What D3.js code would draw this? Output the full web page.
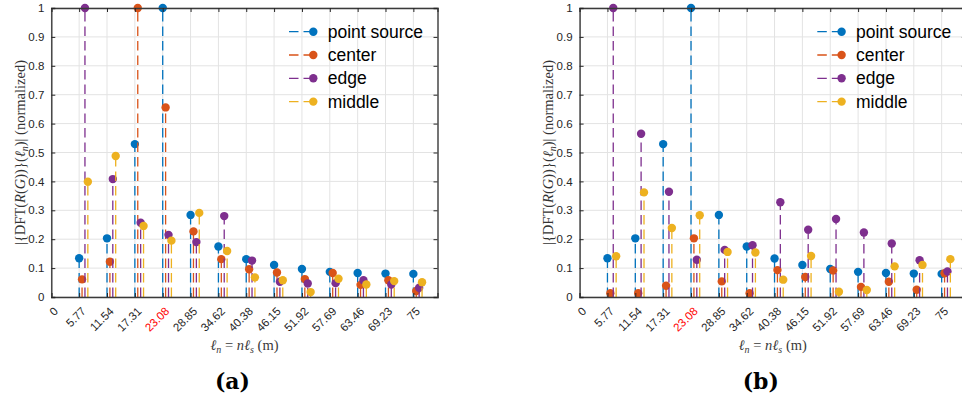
<!DOCTYPE html>
<html>
<head>
<meta charset="utf-8">
<script src="https://cdn.jsdelivr.net/npm/d3@7"></script>
<style>
  body { margin: 0; background: #fff; }
  svg { display: block; }
</style>
</head>
<body>
<svg id="fig" width="962" height="399"></svg>
<script>
// Sample lengths (m) and their tick labels
const tickLabels = ["0", "5.77", "11.54", "17.31", "23.08", "28.85", "34.62", "40.38", "46.15", "51.92", "57.69", "63.46", "69.23", "75"];
const lengths = [5.77, 11.54, 17.31, 23.08, 28.85, 34.62, 40.38, 46.15, 51.92, 57.69, 63.46, 69.23, 75];
const highlightLabel = "23.08";
const yTicks = [0, 0.1, 0.2, 0.3, 0.4, 0.5, 0.6, 0.7, 0.8, 0.9, 1];

const seriesNames = ["point source", "center", "edge", "middle"];
const seriesColors = ["#0072BD", "#D95319", "#7E2F8E", "#EDB120"];
const seriesShift = [0, 0.6, 1.2, 1.8];

// Panel (a)
const aPoint  = [0.134, 0.203, 0.529, 1.000, 0.284, 0.175, 0.131, 0.111, 0.097, 0.087, 0.083, 0.081, 0.080];
const aCenter = [0.061, 0.122, 1.000, 0.656, 0.227, 0.131, 0.096, 0.085, 0.062, 0.083, 0.042, 0.058, 0.021];
const aEdge   = [1.000, 0.408, 0.257, 0.215, 0.190, 0.280, 0.126, 0.053, 0.047, 0.048, 0.058, 0.043, 0.032];
const aMiddle = [0.399, 0.488, 0.246, 0.195, 0.291, 0.159, 0.068, 0.058, 0.017, 0.063, 0.043, 0.055, 0.051];

// Panel (b)
const bPoint  = [0.134, 0.203, 0.529, 1.000, 0.284, 0.175, 0.133, 0.111, 0.097, 0.087, 0.083, 0.081, 0.080];
const bCenter = [0.013, 0.013, 0.039, 0.203, 0.054, 0.013, 0.093, 0.069, 0.092, 0.035, 0.053, 0.025, 0.082];
const bEdge   = [1.000, 0.565, 0.364, 0.129, 0.163, 0.179, 0.328, 0.233, 0.270, 0.223, 0.185, 0.127, 0.088];
const bMiddle = [0.141, 0.362, 0.239, 0.283, 0.156, 0.154, 0.060, 0.142, 0.018, 0.024, 0.106, 0.111, 0.131];

const svg = d3.select("#fig");
svg.append("rect").attr("width", 962).attr("height", 399).attr("fill", "#fff");

const axisColor = "#262626";
const gridColor = "#e3e3e3";
const dash = "9.5,5";

function drawPanel(dx, series, caption) {
  const g = svg.append("g").attr("transform", `translate(${dx},0)`);
  const x = d3.scaleLinear().domain([0, 80]).range([51.3, 437.5]);
  const y = d3.scaleLinear().domain([0, 1]).range([297, 8]);
  const tickVals = tickLabels.map(Number);

  // grid
  g.append("g").selectAll("line").data(tickVals).join("line")
    .attr("x1", d => x(d)).attr("x2", d => x(d))
    .attr("y1", y(0)).attr("y2", y(1))
    .attr("stroke", gridColor).attr("stroke-width", 1);
  g.append("g").selectAll("line").data(yTicks).join("line")
    .attr("x1", x(0)).attr("x2", x(80))
    .attr("y1", d => y(d)).attr("y2", d => y(d))
    .attr("stroke", gridColor).attr("stroke-width", 1);

  // stems and markers
  series.forEach((vals, si) => {
    const sg = g.append("g");
    sg.selectAll("line").data(vals).join("line")
      .attr("x1", (d, i) => x(lengths[i] + seriesShift[si]))
      .attr("x2", (d, i) => x(lengths[i] + seriesShift[si]))
      .attr("y1", y(0)).attr("y2", d => y(d))
      .attr("stroke", seriesColors[si]).attr("stroke-width", 1.3)
      .attr("stroke-dasharray", dash);
    sg.selectAll("circle").data(vals).join("circle")
      .attr("cx", (d, i) => x(lengths[i] + seriesShift[si]))
      .attr("cy", d => y(d))
      .attr("r", 4.2)
      .attr("fill", seriesColors[si]);
  });

  // box and inward ticks on all four sides
  const xAxisB = d3.axisBottom(x).tickValues(tickVals).tickSize(-4).tickFormat("");
  const xAxisT = d3.axisTop(x).tickValues(tickVals).tickSize(-4).tickFormat("");
  const yAxisL = d3.axisLeft(y).tickValues(yTicks).tickSize(-4).tickFormat("");
  const yAxisR = d3.axisRight(y).tickValues(yTicks).tickSize(-4).tickFormat("");
  [[xAxisB, `translate(0,${y(0)})`], [xAxisT, `translate(0,${y(1)})`],
   [yAxisL, `translate(${x(0)},0)`], [yAxisR, `translate(${x(80)},0)`]].forEach(([ax, tr]) => {
    const a = g.append("g").attr("transform", tr).call(ax);
    a.select(".domain").attr("stroke", "#3a3a3a").attr("stroke-width", 1.4);
    a.selectAll(".tick line").attr("stroke", axisColor).attr("stroke-width", 1);
  });

  // y tick labels
  g.append("g").selectAll("text").data(yTicks).join("text")
    .attr("x", x(0) - 7).attr("y", d => y(d)).attr("dy", "0.36em")
    .attr("text-anchor", "end")
    .attr("font-family", "Liberation Sans, Arial, sans-serif").attr("font-size", 11.5)
    .attr("fill", axisColor)
    .text(d => d3.format("~g")(d));

  // x tick labels, rotated
  g.append("g").selectAll("text").data(tickLabels).join("text")
    .attr("transform", d => `translate(${x(+d) + 4.5},${y(0) + 12}) rotate(-45)`)
    .attr("dy", "0.36em")
    .attr("text-anchor", "end")
    .attr("font-family", "Liberation Sans, Arial, sans-serif").attr("font-size", 11.5)
    .attr("fill", d => d === highlightLabel ? "#ff0000" : axisColor)
    .text(d => d);

  // y label
  const yl = g.append("text")
    .attr("transform", `translate(25,${(y(0) + y(1)) / 2}) rotate(-90)`)
    .attr("text-anchor", "middle")
    .attr("font-family", "Liberation Serif, Times New Roman, serif").attr("font-size", 14.5)
    .attr("fill", "#333");
  yl.append("tspan").text("|{DFT(");
  yl.append("tspan").attr("font-style", "italic").text("R");
  yl.append("tspan").text("(");
  yl.append("tspan").attr("font-style", "italic").text("G");
  yl.append("tspan").text("))}(");
  yl.append("tspan").attr("font-style", "italic").text("ℓ");
  yl.append("tspan").attr("font-style", "italic").attr("font-size", 10).attr("dy", 3).text("n");
  yl.append("tspan").attr("dy", -3).text(")| (normalized)");

  // x label
  const xl = g.append("text")
    .attr("x", (x(0) + x(80)) / 2).attr("y", 350)
    .attr("text-anchor", "middle")
    .attr("font-family", "Liberation Serif, Times New Roman, serif").attr("font-size", 14.5)
    .attr("fill", "#3a3a3a");
  xl.append("tspan").attr("font-style", "italic").text("ℓ");
  xl.append("tspan").attr("font-style", "italic").attr("font-size", 10).attr("dy", 3).text("n");
  xl.append("tspan").attr("dy", -3).text(" = ");
  xl.append("tspan").attr("font-style", "italic").text("nℓ");
  xl.append("tspan").attr("font-style", "italic").attr("font-size", 10).attr("dy", 3).text("s");
  xl.append("tspan").attr("dy", -3).text(" (m)");

  // legend
  const lg = g.append("g");
  seriesNames.forEach((name, si) => {
    const cy = 31.7 + si * 23.3;
    lg.append("line").attr("x1", 289).attr("x2", 313.3).attr("y1", cy).attr("y2", cy)
      .attr("stroke", seriesColors[si]).attr("stroke-width", 1.3).attr("stroke-dasharray", dash);
    lg.append("circle").attr("cx", 313.3).attr("cy", cy).attr("r", 4.2).attr("fill", seriesColors[si]);
    lg.append("text").attr("x", 327.7).attr("y", cy).attr("dy", "0.35em")
      .attr("font-family", "Liberation Sans, Arial, sans-serif").attr("font-size", 17.5)
      .attr("fill", "#000").text(name);
  });

  // caption
  g.append("text").attr("x", 232.5).attr("y", 389)
    .attr("text-anchor", "middle")
    .attr("font-family", "DejaVu Serif, serif").attr("font-weight", "bold").attr("font-size", 22)
    .attr("fill", "#000").text(caption);
}

drawPanel(0, [aPoint, aCenter, aEdge, aMiddle], "(a)");
drawPanel(528.3, [bPoint, bCenter, bEdge, bMiddle], "(b)");
</script>
</body>
</html>
